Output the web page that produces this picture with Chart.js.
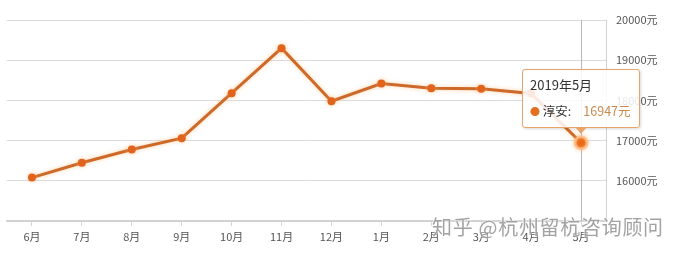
<!DOCTYPE html>
<html>
<head>
<meta charset="utf-8">
<script src="https://cdn.jsdelivr.net/npm/chart.js@4"></script>
<style>
  body { margin: 0; background: #fff; font-family: "Noto Sans CJK SC", "Noto Sans", sans-serif; }
  #wrap { position: relative; width: 681px; height: 257px; }
  #tip {
    position: absolute; width: 116px; height: 57px; box-sizing: content-box;
    border: 1px solid #eaa46a; border-radius: 3px; background: rgba(255,255,255,0.86);
    box-shadow: 1px 1px 3px rgba(0,0,0,0.15); font-size: 12px; color: #333; display: none;
  }
  #tip .t { position: absolute; left: 7px; top: 5px; font-size: 13px; }
  #tip .b { position: absolute; left: 7px; top: 31px; white-space: nowrap; font-size: 12.5px; }
  #tip .dot { color: #e4701f; font-size: 10px; }
  #tip .v { color: #c98a4f; margin-left: 12px; }
  #tip:after {
    content: ""; position: absolute; left: 50%; bottom: -7px; margin-left: -6px;
    border-left: 6px solid transparent; border-right: 6px solid transparent;
    border-top: 7px solid #eaa46a;
  }
  #mark {
    position: absolute; left: 432px; top: 212px; font-size: 20px; letter-spacing: 0.7px;
    color: rgba(100,100,100,0.6); text-shadow: 0 0 2px #fff, 0 0 2px #fff; white-space: nowrap;
  }
</style>
</head>
<body>
<div id="wrap">
  <canvas id="c"></canvas>
  <div id="tip"><div class="t"></div><div class="b"><span class="dot">●</span> 淳安:<span class="v"></span></div></div>
  <div id="mark">知乎 @杭州留杭咨询顾问</div>
</div>
<script>
const months = ['6月', '7月', '8月', '9月', '10月', '11月', '12月', '1月', '2月', '3月', '4月', '5月'];
const years = [2018, 2018, 2018, 2018, 2018, 2018, 2018, 2019, 2019, 2019, 2019, 2019];
const prices = [16080, 16450, 16780, 17060, 18180, 19300, 17980, 18420, 18300, 18290, 18170, 16947];
const yTicks = [15000, 16000, 17000, 18000, 19000, 20000];
const activeIndex = 11;

const lineColor = '#cd6a2a';

const glowPlugin = {
    id: 'glow',
    beforeDatasetDraw(chart) {
        const ctx = chart.ctx;
        ctx.save();
        ctx.shadowColor = 'rgba(255,180,110,0.6)';
        ctx.shadowBlur = 4;
    },
    afterDatasetDraw(chart) {
        chart.ctx.restore();
    }
};

const crossPlugin = {
    id: 'cross',
    beforeDatasetsDraw(chart) {
        const x = chart.scales.x.getPixelForValue(activeIndex);
        const a = chart.chartArea;
        const ctx = chart.ctx;
        ctx.save();
        ctx.strokeStyle = '#b8b8b8';
        ctx.lineWidth = 1;
        ctx.beginPath();
        ctx.moveTo(Math.round(x) + 0.5, a.top);
        ctx.lineTo(Math.round(x) + 0.5, a.bottom);
        ctx.stroke();
        ctx.restore();
    }
};

function externalTip(context) {
    const tip = document.getElementById('tip');
    const m = context.tooltip;
    if (m.opacity === 0) { tip.style.display = 'none'; return; }
    const i = m.dataPoints[0].dataIndex;
    tip.querySelector('.t').textContent = years[i] + '年' + months[i];
    tip.querySelector('.v').textContent = prices[i] + '元';
    tip.style.display = 'block';
    tip.style.left = (m.caretX - 59) + 'px';
    tip.style.top = (m.caretY - 74) + 'px';
}

const chart = new Chart(document.getElementById('c'), {
    type: 'line',
    data: {
        labels: months,
        datasets: [{
            label: '淳安',
            data: prices,
            borderColor: lineColor,
            borderWidth: 3,
            backgroundColor: '#e2631c',
            pointRadius: 4,
            pointBorderWidth: 0,
            pointHoverRadius: 6,
            pointHoverBorderWidth: 3,
            pointHoverBorderColor: 'rgba(255,190,140,0.8)',
            pointHoverBackgroundColor: '#e8650f',
            tension: 0
        }]
    },
    options: {
        responsive: true,
        maintainAspectRatio: false,
        animation: false,
        layout: { padding: { left: 7, top: 20, right: 0, bottom: 0 } },
        plugins: {
            legend: { display: false },
            tooltip: { enabled: false, external: externalTip, mode: 'index', intersect: false }
        },
        events: [],
        scales: {
            x: {
                offset: true,
                grid: { offset: false, drawOnChartArea: false, tickLength: 5, color: '#d6d6d6' },
                border: { color: '#d2d2d2', width: 2 },
                ticks: { color: '#555', font: { size: 11, family: '"Noto Sans CJK SC"' }, padding: 4, maxRotation: 0, autoSkip: false },
                afterFit(scale) { scale.height = 36; }
            },
            y: {
                position: 'right',
                min: yTicks[0],
                max: yTicks[yTicks.length - 1],
                afterBuildTicks(scale) { scale.ticks = yTicks.map(v => ({ value: v })); },
                grid: { color: '#dcdcdc', drawTicks: false },
                border: { color: '#d2d2d2', width: 1 },
                ticks: {
                    color: '#555',
                    padding: 10,
                    font: { size: 11, family: '"Noto Sans CJK SC"' },
                    callback: v => v === yTicks[0] ? '' : v + '元'
                },
                afterFit(scale) { scale.width = 75; }
            }
        }
    },
    plugins: [crossPlugin, glowPlugin]
});

const el = [{ datasetIndex: 0, index: activeIndex }];
const pt = chart.getDatasetMeta(0).data[activeIndex];
chart.setActiveElements(el);
chart.tooltip.setActiveElements(el, { x: pt.x, y: pt.y });
chart.update();
</script>
</body>
</html>
